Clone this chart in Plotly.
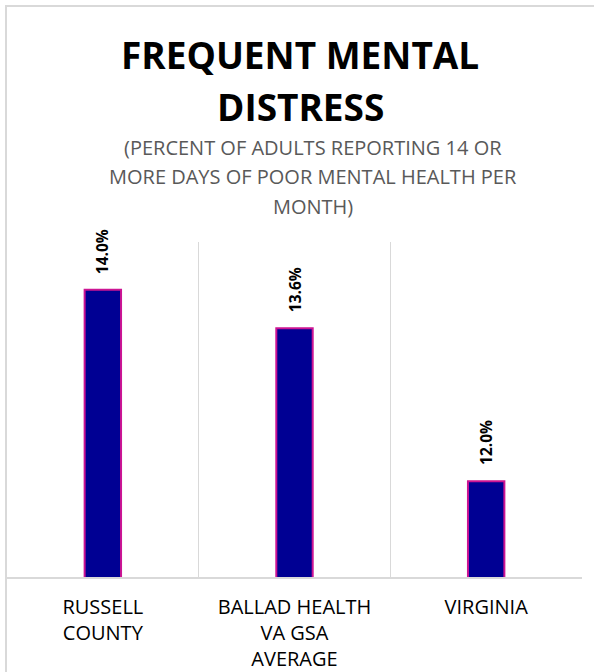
import plotly.graph_objects as go

categories = ["RUSSELL<br>COUNTY", "BALLAD HEALTH<br>VA GSA<br>AVERAGE", "VIRGINIA"]
values = [14.0, 13.6, 12.0]
labels = ["14.0%", "13.6%", "12.0%"]

title_lines = ["FREQUENT MENTAL", "DISTRESS"]
subtitle_lines = ["(PERCENT OF ADULTS REPORTING 14 OR",
                  "MORE DAYS OF POOR MENTAL HEALTH PER",
                  "MONTH)"]

W, H = 594, 672
L, R, T, B = 7, 12, 242, 95
ph = H - T - B  # plot height in px
pw = W - L - R


def py(y):
    # page pixel -> paper y
    return (H - B - y) / ph


def px(x):
    return (x - L) / pw


fig = go.Figure()
fig.add_trace(go.Bar(
    x=categories, y=values, width=0.19,
    marker=dict(color="#000093", line=dict(color="#CC1493", width=2)),
    hoverinfo="skip",
))

for c, v, t in zip(categories, values, labels):
    fig.add_annotation(x=c, y=v, text=t, textangle=-90, showarrow=False,
                       yanchor="bottom", yshift=14,
                       font=dict(family="Open Sans", size=15.5, color="#000000", weight="bold"))

# title (two lines, wide spacing)
for i, line in enumerate(title_lines):
    fig.add_annotation(xref="paper", yref="paper", x=px(300), y=py(55 + 52 * i), text=line,
                       showarrow=False, xanchor="center", yanchor="middle",
                       font=dict(family="Open Sans", size=37, color="#000000", weight="bold"))

# subtitle
for i, line in enumerate(subtitle_lines):
    fig.add_annotation(xref="paper", yref="paper", x=px(313), y=py(147 + 29.5 * i), text=line,
                       showarrow=False, xanchor="center", yanchor="middle",
                       font=dict(family="Open Sans", size=20, color="#595959"))

# outer chart border
fig.add_shape(type="rect", xref="paper", yref="paper", x0=px(6), x1=px(600), y0=py(700), y1=py(6),
              line=dict(color="#D9D9D9", width=2), layer="above")

fig.update_layout(
    width=W, height=H,
    margin=dict(l=L, r=R, t=T, b=B),
    plot_bgcolor="white", paper_bgcolor="white",
    showlegend=False, bargap=0.8,
    xaxis=dict(type="category", tickson="boundaries", showgrid=True, gridcolor="#D9D9D9", gridwidth=1,
               showline=True, linecolor="#D9D9D9", linewidth=2, ticks="", ticklabelstandoff=11,
               automargin=False,
               tickfont=dict(family="Open Sans", size=20, color="#000000"), fixedrange=True),
    yaxis=dict(range=[11, 14.5], visible=False, showgrid=False, zeroline=False, fixedrange=True),
)

fig.write_html("out.html", config={"displayModeBar": False},
               post_script="document.body.style.margin='0';")
